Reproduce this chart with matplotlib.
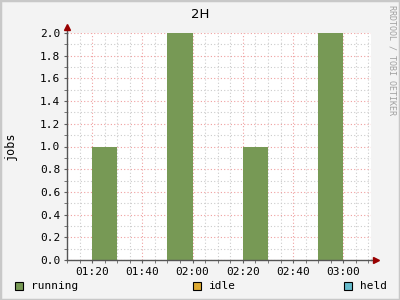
import datetime as dtm
import matplotlib
matplotlib.use('Agg')
import matplotlib.pyplot as plt
import matplotlib.dates as mdates
from matplotlib.patches import Rectangle

# data
bar_starts = ['01:20', '01:50', '02:20', '02:50']
running = [1, 2, 1, 2]
bar_minutes = 10
legend_names = ['running', 'idle', 'held']
legend_colors = ['#779955', '#ddaa33', '#66bbcc']
y_ticks = [0.0, 0.2, 0.4, 0.6, 0.8, 1.0, 1.2, 1.4, 1.6, 1.8, 2.0]

day = '2024-01-01 '
def t(s):
    return dtm.datetime.strptime(day + s, '%Y-%m-%d %H:%M')

mono = 'DejaVu Sans Mono'

fig = plt.figure(figsize=(4, 3), dpi=100, facecolor='#f3f3f3')
# frame round the picture
fig.patches.append(Rectangle((0, 0), 1, 1, transform=fig.transFigure, fill=False,
                             edgecolor='#c8c8c8', linewidth=2.5))

ax = fig.add_axes([67/400, 40/300, 304/400, 227/300], facecolor='white')
xs = [t(s) for s in bar_starts]
w = dtm.timedelta(minutes=bar_minutes)
ax.bar(xs, running, width=w, align='edge', color=legend_colors[0], linewidth=0, zorder=2)

ax.set_xlim(t('01:10'), t('03:11'))
ax.set_ylim(0, 2.0)
ax.set_yticks(y_ticks)
ax.set_yticklabels(['%.1f' % v for v in y_ticks], family=mono, fontsize=8)
ax.yaxis.set_minor_locator(matplotlib.ticker.MultipleLocator(0.1))
ax.xaxis.set_major_locator(mdates.MinuteLocator(byminute=[0, 20, 40]))
ax.xaxis.set_minor_locator(mdates.MinuteLocator(byminute=range(0, 60, 5)))
ax.xaxis.set_major_formatter(mdates.DateFormatter('%H:%M'))
for lab in ax.get_xticklabels():
    lab.set_family(mono)
    lab.set_fontsize(8)

ax.grid(which='minor', color='#cccccc', linestyle=(0, (1, 2)), linewidth=0.8, zorder=0)
ax.grid(which='major', color='#f0a0a0', linestyle=(0, (1, 2)), linewidth=0.8, zorder=1)
ax.set_axisbelow(True)
ax.tick_params(which='both', length=2, color='#606060', pad=3)
for s in ['top', 'right']:
    ax.spines[s].set_visible(False)
for s in ['left', 'bottom']:
    ax.spines[s].set_color('#555555')
    ax.spines[s].set_linewidth(1)
    ax.spines[s].set_zorder(3)

# axis arrows
ax.plot([0, 0], [1.0, 1.025], transform=ax.transAxes, color='#555555', lw=1, clip_on=False)
ax.plot([1.0, 1.015], [0, 0], transform=ax.transAxes, color='#555555', lw=1, clip_on=False)
ax.plot([0], [1.027], marker='^', ms=5, color='#990000', transform=ax.transAxes, clip_on=False)
ax.plot([1.017], [0], marker='>', ms=5, color='#990000', transform=ax.transAxes, clip_on=False)

fig.text(10/400, 1 - 146/300, 'jobs', rotation=90, ha='center', va='center', family=mono, fontsize=8.5)
fig.text(0.5, 1 - 14/300, '2H', ha='center', va='center', fontsize=9.5, family='DejaVu Sans')
fig.text(392/400, 1 - 60/300, 'RRDTOOL / TOBI OETIKER', rotation=270, ha='center', va='center',
         family=mono, fontsize=6, color='#a0a0a0')

# legend
for name, col, x in zip(legend_names, legend_colors, [15, 193, 344]):
    fig.patches.append(Rectangle((x/400, 1 - 290/300), 8/400, 8/300, transform=fig.transFigure,
                                 facecolor=col, edgecolor='black', linewidth=0.8))
    fig.text((x + 16)/400, 1 - 286/300, name, ha='left', va='center', family=mono, fontsize=8)

fig.savefig('out.png', dpi=100, facecolor=fig.get_facecolor())
